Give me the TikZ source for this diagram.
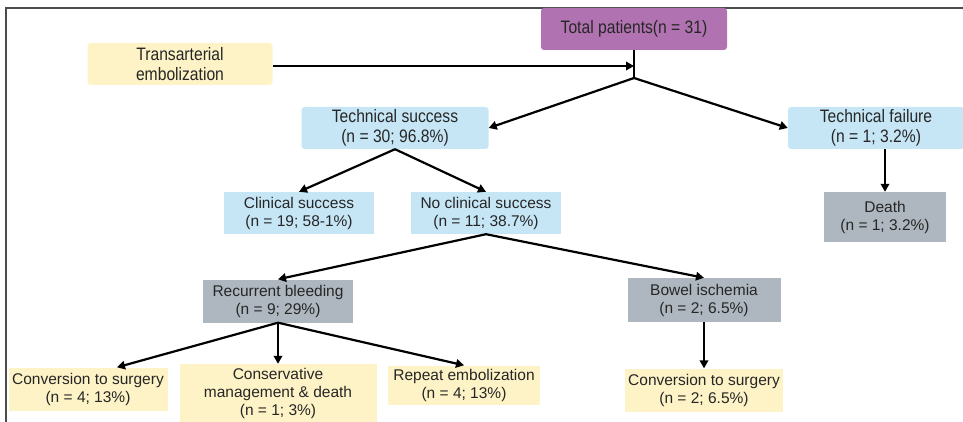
\documentclass[tikz,border=0pt]{standalone}
\usepackage{fontspec}
\setmainfont{Liberation Sans}
\newfontfamily\tallfont[FakeStretch=0.87]{Liberation Sans}
\usetikzlibrary{arrows.meta}

\definecolor{boxpurple}{RGB}{176,114,176}
\definecolor{boxyellow}{RGB}{253,243,198}
\definecolor{boxblue}{RGB}{198,230,246}
\definecolor{boxgray}{RGB}{174,183,191}
\definecolor{txtgray}{RGB}{38,38,38}

\begin{document}
\begin{tikzpicture}[x=1pt,y=-1pt,
	box/.style={align=center,inner sep=0pt,text=txtgray,
		font=\fontsize{15.5}{18}\selectfont},
	topbox/.style={box,rounded corners=3pt,
		font=\tallfont\fontsize{18}{20}\selectfont},
	arr/.style={line width=2.2pt,-{Triangle[length=8pt,width=8.5pt]}},
	link/.style={line width=2.2pt}]
	\useasboundingbox (0,0) rectangle (963,422);

	% frame
	\draw[gray!60!black, line width=1.3pt] (963,8) -- (6,8) -- (6,422);

	% top row
	\node[topbox, fill=boxpurple, minimum width=186pt, minimum height=42pt] (tot) at (634,29) {Total patients(n = 31)};
	\node[topbox, fill=boxyellow, minimum width=185pt, minimum height=42pt] (tae) at (180,64) {Transarterial\\embolization};
	\coordinate (jin) at (634,66);
	\coordinate (j) at (634,78);

	% technical result
	\node[topbox, fill=boxblue, minimum width=187pt, minimum height=42pt] (tsucc) at (395,128) {Technical success\\(n = 30; 96.8\%)};
	\node[topbox, fill=boxblue, minimum width=176pt, minimum height=42pt] (tfail) at (876,128) {Technical failure\\(n = 1; 3.2\%)};
	\node[box, fill=boxgray, minimum width=122pt, minimum height=50pt] (death) at (885,217) {Death\\(n = 1; 3.2\%)};

	% clinical result
	\node[box, fill=boxblue, minimum width=150pt, minimum height=42pt] (csucc) at (299,213) {Clinical success\\(n = 19; 58-1\%)};
	\node[box, fill=boxblue, minimum width=150pt, minimum height=42pt] (ncsucc) at (486,213) {No clinical success\\(n = 11; 38.7\%)};

	% complications
	\node[box, fill=boxgray, minimum width=150pt, minimum height=43pt] (rbleed) at (278,301) {Recurrent bleeding\\(n = 9; 29\%)};
	\node[box, fill=boxgray, minimum width=153pt, minimum height=44pt] (bowel) at (704,300) {Bowel ischemia\\(n = 2; 6.5\%)};

	% management
	\node[box, fill=boxyellow, minimum width=159pt, minimum height=43pt] (conv1) at (88,389) {Conversion to surgery\\(n = 4; 13\%)};
	\node[box, fill=boxyellow, minimum width=197pt, minimum height=58pt] (cons) at (278,393) {Conservative\\management \& death\\(n = 1; 3\%)};
	\node[box, fill=boxyellow, minimum width=152pt, minimum height=39pt] (rep) at (464,385) {Repeat embolization\\(n = 4; 13\%)};
	\node[box, fill=boxyellow, minimum width=158pt, minimum height=43pt] (conv2) at (704,390) {Conversion to surgery\\(n = 2; 6.5\%)};

	% connectors
	\draw[arr] (tae.east |- jin) -- (jin);
	\draw[link] (tot.south) -- (j);
	\draw[arr] (j) -- (tsucc.east);
	\draw[arr] (j) -- (tfail.west);
	\draw[arr] (tfail.south -| death.north) -- (death.north);
	\draw[arr] (tsucc.south) -- (csucc.north);
	\draw[arr] (tsucc.south) -- (ncsucc.north);
	\draw[arr] (ncsucc.south) -- (rbleed.north);
	\draw[arr] (ncsucc.south) -- (bowel.north);
	\draw[arr] (rbleed.south) -- ([xshift=29pt]conv1.north);
	\draw[arr] (rbleed.south) -- (cons.north);
	\draw[arr] (rbleed.south) -- (rep.north);
	\draw[arr] (bowel.south) -- (conv2.north);

\end{tikzpicture}
\end{document}
